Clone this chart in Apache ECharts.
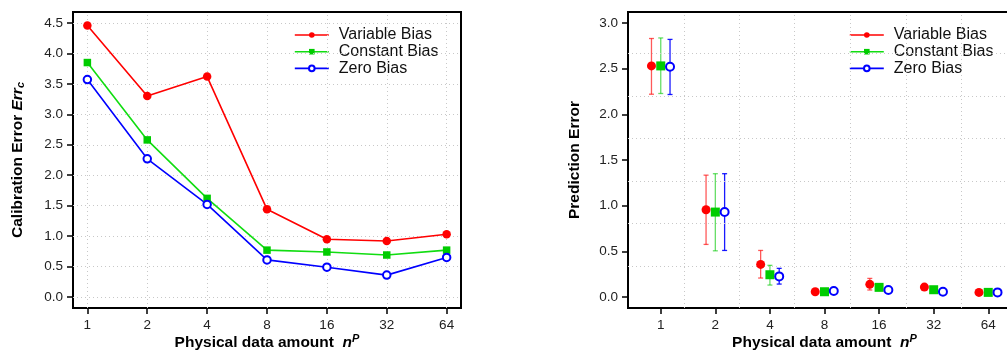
<!DOCTYPE html>
<html>
<head>
<meta charset="utf-8">
<script src="https://cdn.jsdelivr.net/npm/echarts@6/dist/echarts.min.js"></script>
<style>html,body{margin:0;padding:0;background:#fff}#c{width:1007px;height:352px}</style>
</head>
<body>
<div id="c"></div>
<script>
// ---------- data ----------
const categories = ['1', '2', '4', '8', '16', '32', '64'];
const seriesNames = ['Variable Bias', 'Constant Bias', 'Zero Bias'];

// Left: calibration error
const calVariable = [4.46, 3.30, 3.62, 1.44, 0.95, 0.92, 1.03];
const calConstant = [3.85, 2.58, 1.62, 0.77, 0.74, 0.69, 0.77];
const calZero     = [3.57, 2.27, 1.52, 0.61, 0.49, 0.36, 0.65];

// Right: prediction error (mean, lower, upper)
const predVariable      = [2.53, 0.955, 0.357, 0.058, 0.139, 0.109, 0.051];
const predVariableLow   = [2.22, 0.576, 0.208, 0.050, 0.077, 0.100, 0.043];
const predVariableHigh  = [2.83, 1.334, 0.510, 0.066, 0.204, 0.118, 0.059];
const predConstant      = [2.53, 0.930, 0.244, 0.058, 0.106, 0.080, 0.051];
const predConstantLow   = [2.228, 0.506, 0.131, 0.050, 0.098, 0.072, 0.043];
const predConstantHigh  = [2.836, 1.350, 0.347, 0.066, 0.114, 0.088, 0.059];
const predZero          = [2.52, 0.930, 0.226, 0.066, 0.077, 0.058, 0.051];
const predZeroLow       = [2.217, 0.510, 0.142, 0.046, 0.057, 0.038, 0.033];
const predZeroHigh      = [2.820, 1.350, 0.314, 0.086, 0.097, 0.078, 0.069];

const leftYTicks  = [0, 0.5, 1, 1.5, 2, 2.5, 3, 3.5, 4, 4.5];
const rightYTicks = [0, 0.5, 1, 1.5, 2, 2.5, 3];

// ---------- style ----------
const RED = '#ff0000', GREEN = '#00cc00', GREENLINE = '#11dd11', BLUE = '#0000ff';
const FONT = '"Liberation Sans", Arial, sans-serif';
const rightGridX = [0.43, 1.44, 2.45, 3.47, 4.49, 5.51];
const rightGridY = [0.34, 0.806, 1.268, 1.735, 2.2, 2.665];
const offsets = [-0.17, 0, 0.17];
const TITLE_SIZE = 15.5, TICK_SIZE = 13.5;

const catIdx = categories.map((_, i) => i);
const gridLine = { color: '#c8c8c8', width: 1, type: [1, 3] };

function pairs(vals, off) { return vals.map((v, i) => [i + (off || 0), v]); }

function xAxisCfg(gridIndex, min, max) {
  return {
    type: 'value', gridIndex, min, max, position: 'bottom',
    axisLine: { show: false, onZero: false },
    splitLine: { show: false },
    axisTick: { show: true, length: 6, customValues: catIdx, lineStyle: { color: '#000', width: 1.5 } },
    axisLabel: { customValues: catIdx, margin: 10, fontSize: TICK_SIZE, fontFamily: FONT, color: '#222',
      formatter: v => categories[Math.round(v)] },
    name: 'Physical data amount  {i|n}{sup|P}',
    nameLocation: 'middle', nameGap: 25, nameMoveOverlap: false,
    nameTextStyle: {
      fontFamily: FONT, fontWeight: 'bold', fontSize: TITLE_SIZE, color: '#000',
      rich: {
        i: { fontFamily: FONT, fontWeight: 'bold', fontStyle: 'italic', fontSize: TITLE_SIZE, color: '#000' },
        sup: { fontFamily: FONT, fontWeight: 'bold', fontStyle: 'italic', fontSize: 11, color: '#000', verticalAlign: 'top', padding: [0, 0, 8, 0] }
      }
    }
  };
}
function yAxisCfg(gridIndex, min, max, ticks, name, gap) {
  return {
    type: 'value', gridIndex, min, max, position: 'left',
    axisLine: { show: false, onZero: false },
    splitLine: { show: false },
    axisTick: { show: true, length: 6, customValues: ticks, lineStyle: { color: '#000', width: 1.5 } },
    axisLabel: { customValues: ticks, margin: 10, fontSize: TICK_SIZE, fontFamily: FONT, color: '#222',
      formatter: v => v.toFixed(1) },
    name, nameLocation: 'middle', nameGap: gap, nameRotate: 90, nameMoveOverlap: false,
    nameTextStyle: {
      fontFamily: FONT, fontWeight: 'bold', fontSize: TITLE_SIZE, color: '#000',
      rich: {
        i: { fontFamily: FONT, fontWeight: 'bold', fontStyle: 'italic', fontSize: TITLE_SIZE, color: '#000' },
        sub: { fontFamily: FONT, fontWeight: 'bold', fontStyle: 'italic', fontSize: 11, color: '#000', verticalAlign: 'bottom' }
      }
    }
  };
}

function gridSeries(xi, xs, ys) {
  return {
    type: 'line', xAxisIndex: xi, yAxisIndex: xi, data: [], z: 1, silent: true,
    markLine: {
      silent: true, symbol: 'none', animation: false, label: { show: false },
      lineStyle: gridLine,
      data: xs.map(v => ({ xAxis: v })).concat(ys.map(v => ({ yAxis: v })))
    }
  };
}

function errSeries(xi, off, low, high, color) {
  return {
    type: 'custom', xAxisIndex: xi, yAxisIndex: xi, z: 2, silent: true,
    data: low.map((l, i) => [i + off, l, high[i]]),
    renderItem: (params, api) => {
      const x = api.value(0);
      const p1 = api.coord([x, api.value(1)]);
      const p2 = api.coord([x, api.value(2)]);
      const c = 2.5;
      const st = { stroke: color, lineWidth: 1.3 };
      return { type: 'group', children: [
        { type: 'line', shape: { x1: p1[0], y1: p1[1], x2: p2[0], y2: p2[1] }, style: st },
        { type: 'line', shape: { x1: p1[0] - c, y1: p1[1], x2: p1[0] + c, y2: p1[1] }, style: st },
        { type: 'line', shape: { x1: p2[0] - c, y1: p2[1], x2: p2[0] + c, y2: p2[1] }, style: st }
      ]};
    }
  };
}

const symCfg = [
  { symbol: 'circle', size: 8.5, color: RED, line: RED },
  { symbol: 'rect', size: 7.5, color: GREEN, line: GREENLINE },
  { symbol: 'emptyCircle', size: 7.5, color: BLUE, line: BLUE }
];
const calData = [calVariable, calConstant, calZero];
const predData = [predVariable, predConstant, predZero];
const predLow = [predVariableLow, predConstantLow, predZeroLow];
const predHigh = [predVariableHigh, predConstantHigh, predZeroHigh];
const errColors = ['rgba(255,0,0,0.65)', 'rgba(0,200,0,0.6)', 'rgba(0,0,255,0.9)'];

const series = [gridSeries(0, catIdx, leftYTicks), gridSeries(1, rightGridX, rightGridY)];

seriesNames.forEach((nm, k) => {
  const s = symCfg[k];
  series.push({
    name: nm, type: 'line', xAxisIndex: 0, yAxisIndex: 0, z: 5,
    data: pairs(calData[k]),
    symbol: s.symbol, symbolSize: s.size,
    itemStyle: { color: s.color, borderWidth: k === 2 ? 1.6 : 0, borderColor: s.color },
    lineStyle: { color: s.line, width: 1.6 },
    showSymbol: true
  });
});
seriesNames.forEach((nm, k) => {
  series.push(errSeries(1, offsets[k], predLow[k], predHigh[k], errColors[k]));
});
seriesNames.forEach((nm, k) => {
  const s = symCfg[k];
  series.push({
    name: nm, type: 'line', xAxisIndex: 1, yAxisIndex: 1, z: 5,
    data: pairs(predData[k], offsets[k]),
    symbol: s.symbol, symbolSize: k === 2 ? 8 : 9,
    itemStyle: { color: s.color, borderWidth: k === 2 ? 2 : 0, borderColor: s.color },
    lineStyle: { color: s.line, width: 1.6, opacity: 0 },
    showSymbol: true
  });
});

function legendCfg(left) {
  return {
    left, top: 22, orient: 'vertical', itemWidth: 34, itemHeight: 7, itemGap: 0.7,
    selectedMode: false,
    textStyle: { fontFamily: FONT, fontSize: 16, color: '#111', lineHeight: 16, padding: [0, 0, 0, 5] },
    data: seriesNames.map((n, k) => ({ name: n, lineStyle: { color: symCfg[k].line, width: 1.6, opacity: 1 } }))
  };
}

const chart = echarts.init(document.getElementById('c'), null, { renderer: 'canvas' });
chart.setOption({
  animation: false,
  backgroundColor: '#fff',
  grid: [
    { left: 73, top: 12, width: 388, height: 296, show: true, borderColor: '#000', borderWidth: 2, backgroundColor: '#fff', outerBoundsMode: 'none', containLabel: false },
    { left: 628, top: 12, width: 393, height: 296, show: true, borderColor: '#000', borderWidth: 2, backgroundColor: '#fff', outerBoundsMode: 'none', containLabel: false }
  ],
  xAxis: [xAxisCfg(0, -0.24, 6.24), xAxisCfg(1, -0.6, 6.6)],
  yAxis: [
    yAxisCfg(0, -0.18, 4.68, leftYTicks, 'Calibration Error {i|Err}{sub|c}', 47),
    yAxisCfg(1, -0.12, 3.12, rightYTicks, 'Prediction Error', 45)
  ],
  legend: [legendCfg(289), legendCfg(844)],
  series
});
</script>
</body>
</html>
